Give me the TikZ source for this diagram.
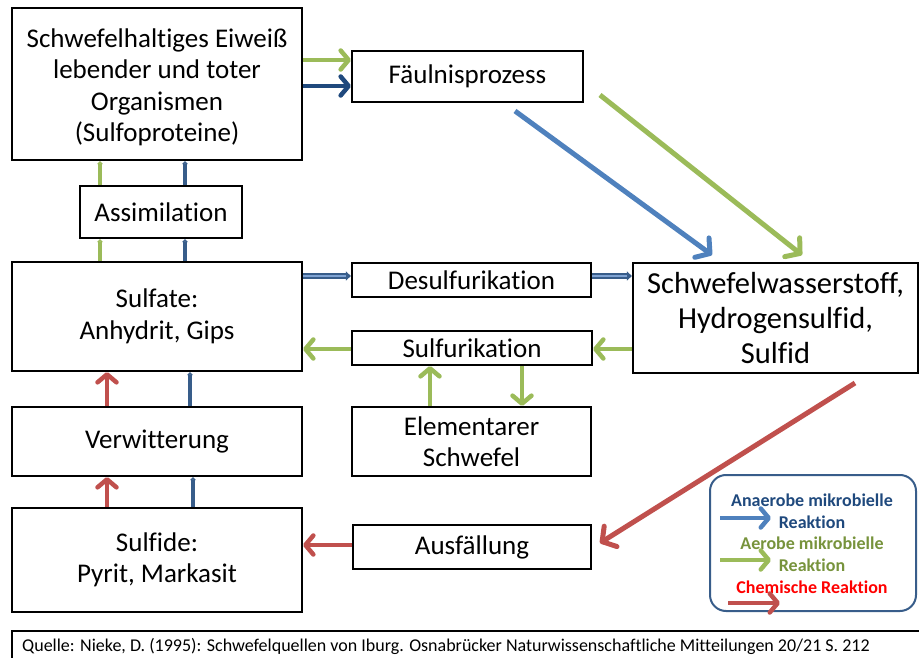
\documentclass[tikz,border=0pt]{standalone}
\usepackage{fontspec}
\setmainfont{Carlito}[Ligatures=NoCommon]
\usetikzlibrary{arrows.meta}
\definecolor{agreen}{HTML}{9BBB59}
\definecolor{dblue}{HTML}{1F497D}
\definecolor{mblue}{HTML}{385D8A}
\definecolor{lblue}{HTML}{4F81BD}
\definecolor{pblue}{HTML}{7FA3D3}
\definecolor{ared}{HTML}{C0504D}
\definecolor{tgreen}{HTML}{77933C}
\begin{document}
\begin{tikzpicture}[x=1pt,y=-1pt,
  box/.style={draw=black, line width=2.2pt, align=center, inner sep=0pt,
    font=\fontsize{27}{31.5}\selectfont},
  bigarrow/.style={line width=4.5pt, -{Straight Barb[length=8pt,width=19pt,round]}},
  diagarrow/.style={line width=5pt, -{Straight Barb[length=10pt,width=24pt,round]}},
  smallarrow/.style={line width=3.8pt, -{Triangle[length=3pt,width=6pt]}},
  legtext/.style={font=\fontsize{18}{20}\selectfont\bfseries, inner sep=0pt}
]
\useasboundingbox (0,0) rectangle (919,658);

% boxes
\node[box, minimum width=290pt, minimum height=152pt] (A) at (157,84)
  {\raisebox{-4pt}[\height][\depth]{\begin{tabular}{@{}c@{}}Schwefelhaltiges Eiweiß\\lebender und toter\\Organismen\\(Sulfoproteine)\end{tabular}}};
\node[box, minimum width=231pt, minimum height=51pt] (F) at (467.5,76.5) {Fäulnisprozess};
\node[box, minimum width=162pt, minimum height=52pt] (As) at (161,212) {Assimilation};
\node[box, minimum width=290pt, minimum height=109pt] (Sf) at (157,316.5) {Sulfate:\\Anhydrit, Gips};
\node[box, minimum width=239pt, minimum height=34pt] (D) at (471.5,280) {Desulfurikation};
\node[box, minimum width=240pt, minimum height=34pt] (Su) at (472,348) {Sulfurikation};
\node[box, minimum width=285pt, minimum height=110pt,
  font=\fontsize{30.5}{35}\selectfont] (H) at (775.5,318) {Schwefelwasserstoff,\\Hydrogensulfid,\\Sulfid};
\node[box, minimum width=290pt, minimum height=69pt] (V) at (157,441.5) {Verwitterung};
\node[box, minimum width=239pt, minimum height=69pt] (E) at (471.5,441.5) {Elementarer\\Schwefel};
\node[box, minimum width=290pt, minimum height=104pt] (Sd) at (157,560) {Sulfide:\\Pyrit, Markasit};
\node[box, minimum width=238pt, minimum height=44pt] (Au) at (472,547) {Ausfällung};

% A -> Faeulnis
\draw[bigarrow, agreen] ([yshift=24pt]A.east) -- ([yshift=16.5pt]F.west);
\draw[bigarrow, dblue] ([yshift=-2pt]A.east) -- ([yshift=-9.5pt]F.west);

% assimilation small arrows
\draw[smallarrow, agreen] ([xshift=-61pt]As.north) -- ([xshift=-57pt]A.south);
\draw[smallarrow, mblue] ([xshift=24pt]As.north) -- ([xshift=28pt]A.south);
\draw[smallarrow, agreen] ([xshift=-57pt]Sf.north) -- ([xshift=-61pt]As.south);
\draw[smallarrow, mblue] ([xshift=28pt]Sf.north) -- ([xshift=24pt]As.south);

% Verwitterung
\draw[bigarrow, ared] ([xshift=-50pt]V.north) -- ([xshift=-50pt]Sf.south);
\draw[smallarrow, mblue] ([xshift=33pt]V.north) -- ([xshift=33pt]Sf.south);
\draw[bigarrow, ared] ([xshift=-50pt]Sd.north) -- ([xshift=-50pt]V.south);
\draw[smallarrow, mblue] ([xshift=36pt]Sd.north) -- ([xshift=36pt]V.south);

% Desulfurikation (double blue arrows)
\draw[mblue, line width=6pt, -{Triangle[length=5pt,width=9pt]}] ([yshift=40.5pt]Sf.east) -- ([yshift=4pt]D.west);
\draw[pblue, line width=2pt, shorten >=5pt] ([yshift=40.5pt]Sf.east) -- ([yshift=4pt]D.west);
\draw[mblue, line width=6pt, -{Triangle[length=5pt,width=9pt]}] ([yshift=4pt]D.east) -- ([yshift=42pt]H.west);
\draw[pblue, line width=2pt, shorten >=5pt] ([yshift=4pt]D.east) -- ([yshift=42pt]H.west);

% Sulfurikation
\draw[bigarrow, agreen] ([yshift=-31pt]H.west) -- ([yshift=-1pt]Su.east);
\draw[bigarrow, agreen] ([yshift=-1pt]Su.west) -- ([yshift=-32.5pt]Sf.east);
\draw[bigarrow, agreen] ([xshift=-41.5pt]E.north) -- ([xshift=-42pt]Su.south);
\draw[bigarrow, agreen] ([xshift=50pt]Su.south) -- ([xshift=50.5pt]E.north);

% Ausfaellung
\draw[bigarrow, ared] ([yshift=2pt]Au.west) -- ([yshift=15pt]Sd.east);

% diagonals
\coordinate (b1) at (515,111);
\coordinate (b2) at (712,255);
\coordinate (g1) at (600,95);
\coordinate (g2) at (802,255);
\coordinate (r1) at (855,383);
\coordinate (r2) at (600,543);
\draw[diagarrow, lblue] (b1) -- (b2);
\draw[diagarrow, agreen] (g1) -- (g2);
\draw[diagarrow, ared] (r1) -- (r2);

% legend
\node[draw=mblue, line width=2pt, rounded corners=16pt, minimum width=206pt, minimum height=136pt] (L) at (813,543) {};
\node[legtext, text=dblue] (l1) at (812,500) {Anaerobe mikrobielle};
\node[legtext, text=dblue] (l2) at (812,522) {Reaktion};
\node[legtext, text=tgreen] (l3) at (812,543) {Aerobe mikrobielle};
\node[legtext, text=tgreen] (l4) at (812,565) {Reaktion};
\node[legtext, text=red] (l5) at (812,587) {Chemische Reaktion};
\coordinate (lb1) at (720,518); \coordinate (lb2) at (771,518);
\coordinate (lg1) at (720,560); \coordinate (lg2) at (771,560);
\coordinate (lr1) at (728,603); \coordinate (lr2) at (780,603);
\draw[bigarrow, lblue] (lb1) -- (lb2);
\draw[bigarrow, agreen] (lg1) -- (lg2);
\draw[bigarrow, ared] (lr1) -- (lr2);

% source box
\draw[line width=2.5pt] (930,631) -- (12,631) -- (12,670);
\node[anchor=west, inner sep=0pt, font=\fontsize{18}{20}\selectfont] (Q) at (22,646)
  {Quelle: Nieke, D. (1995): Schwefelquellen von Iburg. Osnabrücker Naturwissenschaftliche Mitteilungen 20/21 S. 212};
\end{tikzpicture}
\end{document}
